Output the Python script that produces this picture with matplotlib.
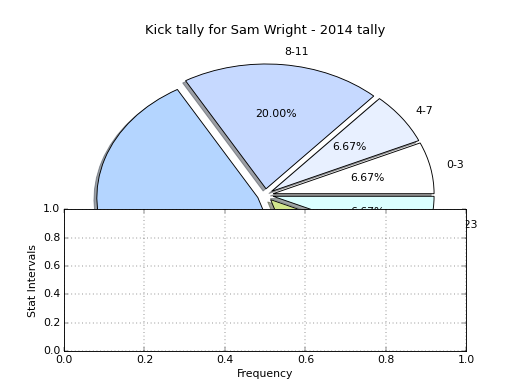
import matplotlib
matplotlib.use("Agg")
import matplotlib.pyplot as plt

plt.style.use("classic")

labels = ["0-3", "4-7", "8-11", "12-15", "16-19", "20-23"]
counts = [1, 1, 3, 7, 2, 1]
colors = ["#ffffff", "#e8f0ff", "#c6d9ff", "#b4d5ff", "#d2e68d", "#dbffff"]
explode = [0.05, 0.05, 0.05, 0.05, 0.05, 0.05]

title = "Kick tally for Sam Wright - 2014 tally"
xlabel = "Frequency"
ylabel = "Stat Intervals"

fig = plt.figure(figsize=(8, 6), dpi=65)
fig.subplots_adjust(left=0.123, right=0.897)
ax = fig.add_subplot(111)
ax.pie(counts, labels=labels, colors=colors, explode=explode,
       autopct="%1.2f%%", shadow=True, startangle=0)
ax.set_aspect("auto")
ax.set_xlim(-1.25, 1.25)
ax.set_ylim(-1.25, 1.25)
ax.set_title(title)

ax2 = fig.add_subplot(212)
ax2.grid(True)
ax2.set_xlabel(xlabel)
ax2.set_ylabel(ylabel)

fig.savefig("out.png", dpi=65)
